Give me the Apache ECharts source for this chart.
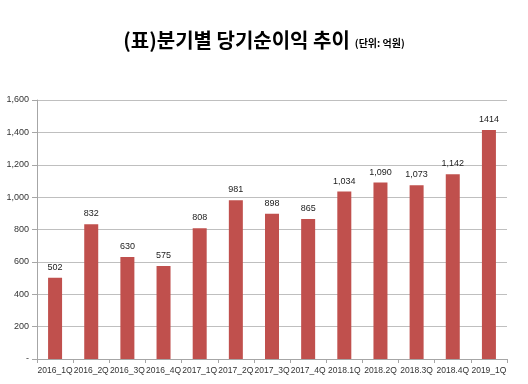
<!DOCTYPE html>
<html><head><meta charset="utf-8">
<script src="https://cdn.jsdelivr.net/npm/echarts@6/dist/echarts.min.js"></script>
<style>html,body{margin:0;padding:0;background:#fff}#c{width:528px;height:384px}</style>
</head><body><div id="c"></div>
<script>
var categories = ['2016_1Q','2016_2Q','2016_3Q','2016_4Q','2017_1Q','2017_2Q','2017_3Q','2017_4Q','2018.1Q','2018.2Q','2018.3Q','2018.4Q','2019_1Q'];
var values = [502, 832, 630, 575, 808, 981, 898, 865, 1034, 1090, 1073, 1142, 1414];
var valueLabels = ['502','832','630','575','808','981','898','865','1,034','1,090','1,073','1,142','1414'];
var yTicks = {min: 0, max: 1600, interval: 200};

var chart = echarts.init(document.getElementById('c'), null, {renderer: 'canvas'});
chart.setOption({
  backgroundColor: '#fff',
  animation: false,
  title: {
    text: '{m|(표)분기별 당기순이익 추이} {s|(단위: 억원)}',
    left: 'center',
    top: 25,
    textStyle: {
      rich: {
        m: {fontFamily: 'Noto Sans CJK KR', fontSize: 20, fontWeight: 'bold', color: '#000'},
        s: {fontFamily: 'Noto Sans CJK KR', fontSize: 10, fontWeight: 'bold', color: '#000', padding: [6, 0, 0, 0]}
      }
    }
  },
  grid: {left: 37, right: 21, top: 100, bottom: 25, containLabel: false},
  xAxis: {
    type: 'category',
    data: categories,
    axisLine: {lineStyle: {color: '#a6a6a6'}},
    axisTick: {show: true, length: 4, lineStyle: {color: '#a6a6a6'}},
    axisLabel: {interval: 0, fontFamily: 'Liberation Sans', fontSize: 8.5, color: '#333', margin: 7}
  },
  yAxis: {
    type: 'value',
    min: yTicks.min, max: yTicks.max, interval: yTicks.interval,
    axisLine: {show: true, lineStyle: {color: '#a6a6a6'}},
    axisTick: {show: true, length: 5, lineStyle: {color: '#a6a6a6'}},
    splitLine: {lineStyle: {color: '#bfbfbf'}},
    axisLabel: {
      fontFamily: 'Liberation Sans', fontSize: 9, color: '#333', margin: 8,
      formatter: function (v) { return v === 0 ? '-' : v.toLocaleString('en-US'); }
    }
  },
  series: [{
    type: 'bar',
    data: values,
    barWidth: 14,
    itemStyle: {color: '#c0504d'},
    label: {
      show: true, position: 'top', distance: 6,
      fontFamily: 'Liberation Sans', fontSize: 9, color: '#222',
      formatter: function (p) { return valueLabels[p.dataIndex]; }
    }
  }]
});
</script></body></html>
